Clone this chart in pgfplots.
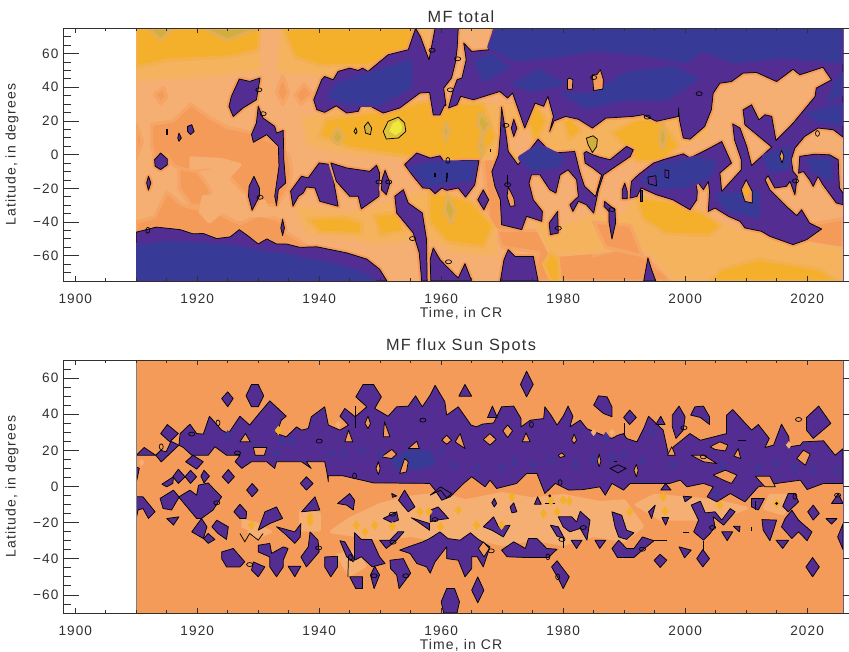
\documentclass[border=0pt]{standalone}
\usepackage{fontspec}
\setmainfont[LetterSpace=8]{Liberation Sans}
\usepackage{pgfplots}
\pgfplotsset{compat=1.18}
\definecolor{cPur}{HTML}{532D91}
\definecolor{cBlue}{HTML}{383A98}
\definecolor{cOr}{HTML}{F59B5A}
\definecolor{cLt}{HTML}{F5AF73}
\definecolor{cMd}{HTML}{F6B35E}
\definecolor{cGold}{HTML}{F4B02A}
\definecolor{cOl}{HTML}{D2AE3C}
\definecolor{cYel}{HTML}{F0E63C}
\definecolor{cTxt}{HTML}{303030}
\pgfplotsset{
 lay/.style={fill=#1,draw=#1!50!cLt,line width=2.5pt,line join=round},
 mask/.style={fill=white,draw=none},
 pur/.style={fill=cPur,draw=black,line width=.55pt,line join=round,preaction={draw=cOr,line width=3.5pt}},
 pbot/.style={fill=cPur,draw=black,line width=.55pt,line join=round},
 isl/.style={fill=cOr,draw=black,line width=.55pt,line join=round},
 blu/.style={fill=cBlue,draw=none,line join=round,preaction={draw=cPur!50!cBlue,line width=4pt}},
 ovh/.style={only marks,mark=o,mark size=1.5pt,mark options={xscale=1.55,draw=black,fill=none,line width=.5pt,solid}},
 ovv/.style={only marks,mark=o,mark size=1.5pt,mark options={yscale=1.45,draw=black,fill=none,line width=.5pt,solid}},
 ln/.style={draw=black,line width=.55pt},
 tk/.style={draw=cTxt,line width=.6pt,unbounded coords=jump},
 common/.style={
  scale only axis,width=596.9pt,
  xmin=1898,xmax=2028.5,
  axis on top,
  axis line style={line width=.7pt,cTxt},
  every tick/.style={line width=.6pt,cTxt},
  tick align=inside,
  xtick={1900,1920,1940,1960,1980,2000,2020},
  xticklabels={1900,1920,1940,1960,1980,2000,2020},
  minor x tick num=3,minor y tick num=3,
  xtick pos=both,ytick pos=both,
  major tick length=3.75pt,minor tick length=1.9pt,
  ticklabel pos=left,
  tick label style={font=\fontsize{10.2}{12}\selectfont,text=cTxt},
  xticklabel style={yshift=-6pt},
  label style={font=\fontsize{10.5}{12}\selectfont,text=cTxt},
  title style={font=\fontsize{12.2}{14}\selectfont,text=cTxt,yshift=-5pt},
  ylabel style={yshift=4pt},
  xlabel style={yshift=4pt},
  xlabel={Time, in CR},
  ylabel={Latitude, in degrees},
 }
}
\begin{document}
\begin{tikzpicture}[x=1pt,y=1pt]
\useasboundingbox (0,0) rectangle (636.75,489);
\clip (0,0) rectangle (636.75,489);
% ============= TOP PANEL
\begin{axis}[common,at={(47.3pt,278.25pt)},anchor=south west,height=189.5pt,
 ymin=-75,ymax=75,ytick={-60,-40,-20,0,20,40,60},yticklabels={−60,−40,−20,0,20,40,60},title={MF total}]
\addplot[lay=cLt] coordinates {(1910,-75)(2025.9,-75)(2025.9,75)(1910,75)} --cycle;
% orange levels
\addplot[lay=cOr] coordinates {(1910,-48)(1910,-40)(1913,-37)(1915,-22)(1917.5,-30)(1921,-33)(1923,-28)(1924,-36)(1927,-41)(1930,-36)(1933,-38)(1935,-47)(1938,-54)(1932,-56)(1915,-50)} --cycle;
\addplot[lay=cOr] coordinates {(1912.5,18)(1916,20)(1919,30)(1922,22)(1925,16)(1928,14)(1932,8)(1935,0)(1935.5,-10)(1935,-20)(1933,-30)(1930,-30)(1927,-20)(1925,-12)(1922,-8)(1918,-10)(1916,-6)(1915,0)(1913,-2)(1912.5,5)} --cycle;
\addplot[lay=cOr] coordinates {(1917,-8)(1920,-10)(1922,-20)(1923,-30)(1919,-30)(1917,-20)} --cycle;
\addplot[lay=cOr] coordinates {(1910,-2)(1911,8)(1910,18)} --cycle;
\addplot[lay=cOr] coordinates {(1913,36)(1914.5,40)(1915,34)(1914,30)} --cycle;
\addplot[lay=cOr] coordinates {(1933,37)(1934,47)(1935,37)(1934,30)} --cycle;
\addplot[lay=cOr] coordinates {(1936,35)(1937.5,42)(1939,36)(1937,30)} --cycle;
\addplot[lay=cOr] coordinates {(1969,-45)(1985,-45)(1985,-60)(1990,-55)(1993,-60)(1998,-75)(1975,-75)(1976,-58)(1970,-55)} --cycle;
\addplot[lay=cOr] coordinates {(1966,30)(1972,30)(1972,-45)(1968,-45)} --cycle;
\addplot[lay=cOr] coordinates {(2010,-48)(2025.9,-38)(2025.9,-55)(2012,-54)} --cycle;
% light back on top of orange
\addplot[lay=cLt] coordinates {(1919,-2)(1924,-3)(1927,-6)(1925,-14)(1922,-7)(1919,-8)} --cycle;
\addplot[lay=cLt] coordinates {(1925,-28)(1928,-24)(1931,-28)(1932,-36)(1928,-36)} --cycle;
\addplot[lay=cLt] coordinates {(1921,-25)(1924,-24)(1924.5,-32)(1922,-40)(1920.5,-34)} --cycle;
% mid/gold top
\addplot[lay=cMd] coordinates {(1910,75)(1958,75)(1958,50)(1945,46)(1935,48)(1931,50)(1920,46)(1910,44)} --cycle;
\addplot[lay=cLt] coordinates {(1930,75)(1933.5,75)(1932.7,45)(1931,45)} --cycle;
\addplot[lay=cGold] coordinates {(1910,75)(1930.3,75)(1930,62)(1925,58)(1915,56)(1910,52)} --cycle;
\addplot[lay=cGold] coordinates {(1934,75)(1955.5,75)(1955,62)(1948,53)(1940,53)(1936,58)} --cycle;
\addplot[lay=cOl] coordinates {(1912,75)(1916,75)(1914,68)} --cycle;
\addplot[lay=cOl] coordinates {(1921,75)(1930,75)(1925,68)} --cycle;
% central band
\addplot[lay=cMd] coordinates {(1937,22)(1945,28)(1960,32)(1970,30)(1980,24)(2000,22)(2006,14)(2000,6)(1990,-5)(1970,-2)(1960,-4)(1945,0)(1938,6)} --cycle;
\addplot[lay=cGold] coordinates {(1941,21)(1950,26)(1958,32)(1967,30)(1969,10)(1966,-4)(1958,-3)(1945,4)(1940,11)} --cycle;
\addplot[lay=cGold] coordinates {(1974.2,20)(1975.5,31)(1977.3,20)(1975.5,7)} --cycle;
\addplot[lay=cGold] coordinates {(1980,20)(1981.3,22)(1983,14)(1981,9)} --cycle;
\addplot[lay=cGold] coordinates {(1992,21)(1996,21)(1999,5)(1996,-4)(1992,-4)(1990,5)(1988,13)} --cycle;
\addplot[lay=cOl] coordinates {(1960.8,19)(1961.3,14)(1960.8,8)(1960.3,14)} --cycle;
\addplot[lay=cOl] coordinates {(1966.4,25)(1968,18)(1967,12)(1966,18)} --cycle;
\addplot[lay=cOl] coordinates {(1966.6,13)(1967,5)(1966.6,-2)(1966.2,5)} --cycle;
\addplot[lay=cOl] coordinates {(1996.3,18)(1997,10)(1996.3,3)(1995.7,10)} --cycle;
\addplot[lay=cOl] coordinates {(1943,16)(1944,10)(1943,6)(1942,10)} --cycle;
\addplot[lay=cLt] coordinates {(1971,8)(1974,14)(1975,3)(1973,0)} --cycle;
% lower band
\addplot[lay=cMd] coordinates {(1936,-30)(1945,-34)(1950,-30)(1958,-20)(1966,-28)(1969,-45)(1969,-60)(1962,-58)(1958,-50)(1950,-53)(1945,-50)(1938,-47)} --cycle;
\addplot[lay=cGold] coordinates {(1938,-38)(1944,-37)(1947,-40)(1947,-47)(1940,-46)} --cycle;
\addplot[lay=cGold] coordinates {(1949,-36)(1953,-34)(1954,-45)(1950,-48)} --cycle;
\addplot[lay=cGold] coordinates {(1958,-21)(1965,-28)(1968.5,-42)(1967,-55)(1961,-52)(1958,-40)} --cycle;
\addplot[lay=cOl] coordinates {(1961,-24)(1962.3,-33)(1961.7,-41)(1960.5,-33)} --cycle;
\addplot[lay=cMd] coordinates {(1975,-38)(1980,-42)(1985,-35)(1990,-35)(1992,-25)(2000,-33)(2010,-46)(2025.9,-56)(2025.9,-75)(1998,-75)(1994,-58)(1991,-55)(1985,-58)(1978,-60)} --cycle;
\addplot[lay=cOr] coordinates {(1985,-40)(1987,-55)(1993,-60)(1991,-42)} --cycle;
\addplot[lay=cGold] coordinates {(1992,-25)(1998,-28)(2003,-35)(2006,-42)(2004,-48)(1997,-47)(1993,-38)} --cycle;
\addplot[lay=cGold] coordinates {(2004,-75)(2025,-75)(2022,-68)(2012,-62)(2006,-68)} --cycle;
\addplot[lay=cGold] coordinates {(1978,-75)(1979.5,-75)(1979.2,-62)(1978,-58)(1976.8,-65)} --cycle;
\addplot[lay=cLt] coordinates {(2005,38)(2012,46)(2016,40)(2022,48)(2023,40)(2016,18)(2012,22)(2009,20)(2004,12)} --cycle;
% purple regions
\addplot[pur] coordinates {(1910,-46)(1913.3,-43)(1917.2,-44.5)(1919.3,-47)(1921,-46.8)(1923.2,-49.8)(1925.4,-48.8)(1926.9,-44.5)(1928.4,-48.4)(1930,-53)(1931.4,-50)(1933,-53)(1934.6,-53)(1936.8,-55)(1939.6,-54.7)(1944.5,-58.3)(1947.8,-62)(1949.9,-68)(1951.1,-75)(1910,-75)} --cycle;
\addplot[pur] coordinates {(1925.2,28.7)(1925.9,22.7)(1927.5,27.7)(1929.7,32.6)(1930.3,45.5)(1928.6,43.5)(1926.9,44.9)(1925.6,34.6)} --cycle;
\addplot[pur] coordinates {(1930,28.7)(1930.8,21.7)(1932.7,16.8)(1933,12.8)(1934.1,14.4)(1934.2,-3)(1934.5,-16.8)(1933.3,-20.8)(1933,-30.2)(1932.7,-24.7)(1933.4,-7)(1933.3,5)(1931.4,11.9)(1929.2,7.3)(1928.9,11.9)(1929.7,18.8)} --cycle;
\addplot[pur] coordinates {(1919.1,17.8)(1919.5,13.8)(1918.9,11.9)(1918.4,13.8)(1918.4,16.8)} --cycle;
\addplot[pur] coordinates {(1917,12.8)(1917.4,9.9)(1917,7.9)(1916.8,9.9)} --cycle;
\addplot[pbot] coordinates {(1914.9,14.8)(1915.1,14.8)(1915.1,12.3)(1914.9,12.3)} --cycle;
\addplot[pur] coordinates {(1913,-3)(1914,1)(1915.1,-2.6)(1915.1,-6)(1914,-8.9)(1913.1,-6.9)} --cycle;
\addplot[pur] coordinates {(1912,-12.8)(1912.4,-16.8)(1912,-21)(1911.7,-16.8)} --cycle;
\addplot[pur] coordinates {(1929.3,-12.8)(1930.2,-19.8)(1930.2,-24.7)(1929,-33)(1928.4,-24.7)(1928.5,-18.8)} --cycle;
\addplot[pur] coordinates {(1934,-38.5)(1934.3,-43.5)(1934,-48)(1933.7,-43.5)} --cycle;
\addplot[pur] coordinates {(1939.1,32.6)(1940.4,44.5)(1940.9,46.4)(1942.3,44.5)(1943.1,49.4)(1945,51.4)(1946.4,50)(1947.1,51.4)(1948,49.4)(1951.3,59.3)(1954.6,62.3)(1955.8,75)(1956.6,70)(1958,56.3)(1959,75)(1962.8,75)(1962.6,62.3)(1962.3,54.3)(1961.7,45.5)(1960.4,39.5)(1960.8,29)(1960.6,29.6)(1959.8,23.6)(1958.7,23.6)(1958.1,37)(1956.5,36.6)(1953.2,27.7)(1950.5,24.7)(1948.3,29)(1946.9,29.6)(1946.4,25.7)(1944.5,24.7)(1942.8,29)(1940.9,25.1)(1939.6,26.7)} --cycle;
% giant region
\addplot[pur] coordinates {(1968.6,75)(1967.8,62.3)(1965,61.3)(1963.7,66.2)(1964.1,56.3)(1963.4,45.5)(1962.6,44.5)(1962,38.5)(1961.2,27.7)(1962.6,29.6)(1963.2,34.6)(1965.3,32.6)(1969.6,37.5)(1970.9,33.6)(1971.7,36.6)(1973.7,15.8)(1975.4,30.6)(1976.8,28.7)(1977.5,34.6)(1978.4,22.7)(1977.8,13.8)(1978.5,20)(1980.4,22.7)(1982.5,21)(1984.8,15.8)(1987,21.7)(1991.4,22.7)(1993.1,23.7)(1995.3,19.8)(1998.9,22.7)(1998.9,27.7)(1999.1,20)(1999.7,9.9)(2000.8,9.2)(2003.2,16.7)(2004.3,26.6)(2004.6,36.5)(2005.7,42.4)(2007.6,43.4)(2009.5,48.4)(2011.7,48.8)(2015,43.4)(2017.7,50.7)(2018.8,47.4)(2022.6,51.9)(2024,44.4)(2021.5,39.5)(2021.3,34.5)(2017.7,18.7)(2014.9,8.4)(2014.2,22.7)(2013.1,23.7)(2012.1,20.7)(2010.9,29.6)(2009.5,26.6)(2009.8,17.7)(2014.2,4.5)(2010.9,-6.4)(2010.1,4.9)(2009,15.8)(2007.8,18.3)(2008.1,8.8)(2009.2,-3)(2009.2,-9)(2006,-21.8)(2005.7,-10.9)(2007.6,-5)(2006,7.8)(2003.5,2.9)(2000.8,-2)(1999.7,.5)(1996.4,-3)(1994.8,-5)(1992.3,-12)(1991.2,-15.9)(1990.9,-25.8)(1992.1,-24.8)(1992.8,-19.8)(1995.3,-23.8)(1998,-26.8)(2000.8,-32.7)(2001.9,-26.8)(2002,-21.8)(2001.4,-10.5)(2002.4,-17.9)(2003,-20.8)(2003.8,-15.9)(2004,-21.8)(2003.8,-33.7)(2004.9,-31.7)(2007.1,-36.6)(2009,-39.6)(2009.8,-43.5)(2012.5,-45.5)(2013.9,-48.5)(2017.7,-53.4)(2019.9,-50.5)(2022.4,-44.1)(2020.4,-40.6)(2019.1,-32.7)(2018.3,-36.2)(2016.6,-30.7)(2013.9,-20.8)(2013.1,-14.9)(2013.6,-12.5)(2014.7,-19.8)(2016.6,-18.8)(2017.2,-15.9)(2018,-23.8)(2018.4,-12.9)(2017.7,-10)(2017.4,-3)(2018,3.9)(2019.6,10.8)(2021.8,15.8)(2024.3,14.8)(2025.9,10.4)(2025.9,75)} --cycle;
\addplot[pur] coordinates {(2018.8,-1)(2021.3,.3)(2023.7,-.1)(2025.1,-3)(2025.3,-19.8)(2025.9,-22.8)(2025.9,-29.7)(2024.8,-28.7)(2022.6,-17.9)(2021.8,-12.9)(2021,-18.8)(2020.4,-14.9)(2019.4,-10)(2018.6,-11)} --cycle;
% lower-centre region
\addplot[pur] coordinates {(1969.9,28.2)(1970.6,12.8)(1971,1.9)(1972.6,-6)(1975.9,9.2)(1978.1,.9)(1981.9,1.9)(1982.7,-10)(1983.5,-18.8)(1985.3,-24.8)(1986.3,-12)(1984.9,-8)(1983.6,-5)(1983.4,.9)(1983.8,1.9)(1984.9,-.1)(1986,-1.5)(1987.7,-3)(1990.4,4.9)(1991.5,2.9)(1991,-1.1)(1988.2,-8)(1986.6,-12)(1985.8,-20.8)(1985,-34.7)(1983.8,-29.7)(1982.5,-27.7)(1981.6,-33.7)(1981.1,-29.7)(1982.5,-24.8)(1982.2,-14.9)(1980.8,-9)(1979.5,-12)(1978.8,-22.8)(1977.8,-20.8)(1976.2,-12)(1974.8,-12)(1974.4,-16.9)(1975.1,-26.8)(1976.6,-33.7)(1976.5,-39.6)(1974,-36.6)(1973.2,-44.5)(1969.9,-41.6)(1969.7,-26.8)(1968.8,-18.8)(1968.3,-10)(1969.4,-.1)(1969.7,12.8)} --cycle;
\addplot[pur] coordinates {(1954,-5.9)(1956,1)(1958.2,-2)(1959.8,-.7)(1960.6,-5)(1963.6,-3.4)(1966.2,-3.6)(1965.5,-17.9)(1964,-25.2)(1962.8,-19.8)(1960.9,-21.2)(1960.1,-19.8)(1959,-23.2)(1958.1,-20)(1957,-19.8)(1955.4,-12.8)} --cycle;
\addplot[pur] coordinates {(1966.9,-20.9)(1967.8,-26.8)(1967,-32.7)(1966,-26.8)} --cycle;
\addplot[pur] coordinates {(1935.3,-21.7)(1935.7,-30.6)(1936.6,-24.7)(1937.4,-22.7)(1937.9,-19.2)(1939.3,-19.8)(1940.1,-27.7)(1943.1,-30.6)(1941.9,-5.9)(1940,-4.9)(1938.2,-13.8)(1937.1,-12.8)} --cycle;
\addplot[pur] coordinates {(1941.9,-4.9)(1944.5,-7.9)(1948.3,-9.9)(1949.4,-6.3)(1949.9,-10.9)(1949.8,-24.7)(1946.9,-32.2)(1946.4,-24.7)(1945,-24.7)(1942.8,-15.8)} --cycle;
\addplot[pur] coordinates {(1950.8,-9.3)(1951.6,-16.8)(1951,-23.7)(1950.2,-20.8)(1950.3,-14.8)} --cycle;
\addplot[pur] coordinates {(1952.4,-24.7)(1953.8,-20.8)(1954.6,-28.7)(1956.9,-34.6)(1957.6,-50.4)(1957.7,-75)(1956.8,-75)(1956.4,-58.3)(1955.4,-46.4)(1952.7,-34.6)} --cycle;
\addplot[pur] coordinates {(1958.3,-75)(1958.2,-62)(1958.7,-55.4)(1959.8,-62.3)(1961.4,-68.3)(1962.8,-73.2)(1963.9,-64.7)(1965,-75)} --cycle;
\addplot[pur] coordinates {(1969.7,-75)(1970.3,-62.3)(1971,-56.4)(1972.1,-60.4)(1975.1,-60.4)(1975.9,-75)} --cycle;
\addplot[pur] coordinates {(1993.9,-61.3)(1994.5,-68.3)(1995.2,-75)(1993.2,-75)} --cycle;
\addplot[pur] coordinates {(1979.1,-33.7)(1979.2,-46.5)(1977.9,-47.5)(1977.7,-40.6)} --cycle;
\addplot[pur] coordinates {(1986.8,-27.8)(1988.5,-32.7)(1988.6,-40.6)(1988,-50.1)(1987.5,-39.6)(1987.5,-33.7)(1986.7,-30.7)} --cycle;
\addplot[pur] coordinates {(1990.1,-16.9)(1990.5,-21.8)(1990.5,-26.2)(1989.7,-26.2)(1989.7,-20.8)} --cycle;
\addplot[pur] coordinates {(1971.9,21)(1972.4,15.7)(1971.9,10.8)(1971.5,15.7)} --cycle;
\addplot[pbot] coordinates {(1992.7,-21)(1993,-21)(1993,-28)(1992.7,-28)} --cycle;
% blue inner
\addplot[blu] coordinates {(1910,-54)(1916,-52)(1925,-54)(1935,-60)(1942,-65)(1947,-70)(1949,-74.5)(1910,-74.5)} --cycle;
\addplot[blu] coordinates {(1941.5,34)(1943,42)(1950,50)(1955,56)(1955,40)(1950,30)(1945,30)} --cycle;
\addplot[blu] coordinates {(1969,74.5)(2025.5,74.5)(2025.5,55)(2016,58)(2008,55)(2003,62)(2000,55)(1992,60)(1985,62)(1978,58)(1972,56)(1968,64)} --cycle;
\addplot[blu] coordinates {(1980,36)(1984,28)(1990,33)(1997,33)(2002,45)(1998,52)(1990,48)(1985,36)} --cycle;
\addplot[blu] coordinates {(1972,42)(1976,50)(1980,42)(1975,38)} --cycle;
\addplot[blu] coordinates {(1965.5,55)(1968,60)(1971,52)(1967,44)} --cycle;
\addplot[blu] coordinates {(2024.6,42)(2025.5,48)(2025.5,36)(2023.5,32)} --cycle;
\addplot[blu] coordinates {(2020,24)(2025.5,30)(2025.5,18)(2022,20)} --cycle;
\addplot[blu] coordinates {(1955,-8)(1958,-5)(1965.5,-5)(1965,-15)(1958,-18)(1956,-12)} --cycle;
\addplot[blu] coordinates {(1973,-2)(1976,5)(1980,-2)(1979,-7)(1975,-9)} --cycle;
\addplot[blu] coordinates {(1993,-15)(1996,-6)(2002,-2)(2005,-5)(2004,-13)(2000,-19)(1995,-20)} --cycle;
\addplot[blu] coordinates {(2005,-24)(2012,-22)(2012,-37)(2007,-33)} --cycle;
\addplot[blu] coordinates {(2013,-1)(2017,4)(2017,-8)(2014,-10)} --cycle;
\addplot[blu] coordinates {(2020,-3)(2024,-3)(2024,-15)(2021,-10)} --cycle;
% orange islands in purple
\addplot[isl] coordinates {(1981,45.5)(1981.6,44.5)(1981.5,38.9)(1980.7,38.9)(1980.7,44.5)} --cycle;
\addplot[isl] coordinates {(1986.1,50.4)(1986.6,44.5)(1986.5,38.9)(1985,38.1)(1984.8,47.4)(1985.5,47.4)} --cycle;
\addplot[isl] coordinates {(2010,-14.9)(2011,-21.8)(2011,-28.7)(2009.8,-27.7)(2009.2,-20.8)} --cycle;
\addplot[isl] coordinates {(2015.8,2.5)(2016.2,-1)(2015.9,-5)(2015.5,-1)} --cycle;
\addplot[isl] coordinates {(1971,-19.3)(1971.9,-25.8)(1972.1,-30.3)(1971.3,-30.7)(1970.8,-24.8)} --cycle;
\addplot[fill=cGold,draw=none] coordinates {(2010,-18)(2010.6,-22)(2010,-26)(2009.6,-22)} --cycle;
% small contours
\addplot[pbot] coordinates {(1993.9,-13.3)(1995.2,-12.5)(1995.3,-18.5)(1994,-17.3)} --cycle;
\addplot[pbot] coordinates {(1996.7,-9)(1997.3,-9.4)(1997.3,-14)(1996.7,-13.3)} --cycle;
\addplot[fill=black,draw=black,line width=.3pt] coordinates {(1968,3.2)(1968.1,3.2)(1968.1,2)(1968,2)} --cycle;
\addplot[fill=black,draw=black,line width=.3pt] coordinates {(1958.9,-11)(1959,-11)(1959,-13)(1958.9,-13)} --cycle;
\addplot[fill=black,draw=black,line width=.3pt] coordinates {(1960.9,-11)(1961.1,-11)(1960.9,-16)(1960.8,-16)} --cycle;
\addplot[line width=.55pt,draw=black] coordinates {(1970.9,-12)(1970.9,-18)};
% yellow contours
\addplot[fill=cOl,draw=black,line width=.55pt] coordinates {(1983.8,9.8)(1984.9,11.2)(1985.6,9.2)(1985.5,4.9)(1984.8,1.3)(1984.1,5.8)} --cycle;
\addplot[fill=cOl,draw=black,line width=.55pt] coordinates {(1948,19.4)(1948.6,15.8)(1948.4,11.9)(1947.6,12.8)(1947.4,16.8)} --cycle;
\addplot[fill=cOl,draw=black,line width=.55pt] coordinates {(1946,15.8)(1946.2,13.8)(1946,12.3)(1945.7,13.8)} --cycle;
\addplot[fill=cOl!60!cYel,draw=black,line width=.55pt] coordinates {(1950.5,13.8)(1951.3,19.8)(1953,22.3)(1954,18.8)(1954.2,13.8)(1953,9.9)(1951,9.3)} --cycle;
\addplot[fill=cYel,draw=none] coordinates {(1951.5,14)(1952,18.5)(1953,20.5)(1953.6,17.5)(1953.5,14)(1952.5,11.5)} --cycle;
% ovals
\addplot[ovh] coordinates {(1930.1,38.5)(1930.8,24.3)(1930.3,-25.3)(1949.8,-16.2)(1951.4,-16.2)(1955.3,-49.8)(1958.5,62)(1962.7,56.9)(1961.5,38.5)(1970.6,17.4)(1970.9,-17.8)(1985,45.8)(2002.3,36.2)(1993.8,22.3)(2018.1,-15.6)(1988,-32.6)(1979.2,-43.7)(1961.2,-63.6)};
\addplot[ovv] coordinates {(1911.9,-44.9)(1961.1,-3.4)(2021.7,12.6)};
% masks
\addplot[mask] coordinates {(1898,-75)(1910,-75)(1910,75)(1898,75)} --cycle;
\addplot[mask] coordinates {(2026,-75)(2028.5,-75)(2028.5,75)(2026,75)} --cycle;
\addplot[draw=cPur!50!gray,line width=.5pt] coordinates {(2025.95,-75)(2025.95,75)};
% long y ticks
\addplot[tk] coordinates {(1898,-60)(1900.62,-60)(1898,nan)(1898,-40)(1900.62,-40)(1898,nan)(1898,-20)(1900.62,-20)(1898,nan)(1898,0)(1900.62,0)(1898,nan)(1898,20)(1900.62,20)(1898,nan)(1898,40)(1900.62,40)(1898,nan)(1898,60)(1900.62,60)};
\addplot[tk] coordinates {(2028.5,-60)(2025.9,-60)(2028.5,nan)(2028.5,-40)(2025.9,-40)(2028.5,nan)(2028.5,-20)(2025.9,-20)(2028.5,nan)(2028.5,0)(2025.9,0)(2028.5,nan)(2028.5,20)(2025.9,20)(2028.5,nan)(2028.5,40)(2025.9,40)(2028.5,nan)(2028.5,60)(2025.9,60)};
\addplot[tk] coordinates {(1898,-70)(1899.31,-70)(1898,nan)(1898,-65)(1899.31,-65)(1898,nan)(1898,-55)(1899.31,-55)(1898,nan)(1898,-50)(1899.31,-50)(1898,nan)(1898,-45)(1899.31,-45)(1898,nan)(1898,-35)(1899.31,-35)(1898,nan)(1898,-30)(1899.31,-30)(1898,nan)(1898,-25)(1899.31,-25)(1898,nan)(1898,-15)(1899.31,-15)(1898,nan)(1898,-10)(1899.31,-10)(1898,nan)(1898,-5)(1899.31,-5)(1898,nan)(1898,5)(1899.31,5)(1898,nan)(1898,10)(1899.31,10)(1898,nan)(1898,15)(1899.31,15)(1898,nan)(1898,25)(1899.31,25)(1898,nan)(1898,30)(1899.31,30)(1898,nan)(1898,35)(1899.31,35)(1898,nan)(1898,45)(1899.31,45)(1898,nan)(1898,50)(1899.31,50)(1898,nan)(1898,55)(1899.31,55)(1898,nan)(1898,65)(1899.31,65)(1898,nan)(1898,70)(1899.31,70)};
\addplot[tk] coordinates {(2028.5,-70)(2027.2,-70)(2028.5,nan)(2028.5,-65)(2027.2,-65)(2028.5,nan)(2028.5,-55)(2027.2,-55)(2028.5,nan)(2028.5,-50)(2027.2,-50)(2028.5,nan)(2028.5,-45)(2027.2,-45)(2028.5,nan)(2028.5,-35)(2027.2,-35)(2028.5,nan)(2028.5,-30)(2027.2,-30)(2028.5,nan)(2028.5,-25)(2027.2,-25)(2028.5,nan)(2028.5,-15)(2027.2,-15)(2028.5,nan)(2028.5,-10)(2027.2,-10)(2028.5,nan)(2028.5,-5)(2027.2,-5)(2028.5,nan)(2028.5,5)(2027.2,5)(2028.5,nan)(2028.5,10)(2027.2,10)(2028.5,nan)(2028.5,15)(2027.2,15)(2028.5,nan)(2028.5,25)(2027.2,25)(2028.5,nan)(2028.5,30)(2027.2,30)(2028.5,nan)(2028.5,35)(2027.2,35)(2028.5,nan)(2028.5,45)(2027.2,45)(2028.5,nan)(2028.5,50)(2027.2,50)(2028.5,nan)(2028.5,55)(2027.2,55)(2028.5,nan)(2028.5,65)(2027.2,65)(2028.5,nan)(2028.5,70)(2027.2,70)};
\end{axis}
% ============= BOTTOM PANEL
\begin{axis}[common,at={(47.3pt,29.25pt)},anchor=south west,height=189.75pt,
 ymin=-70,ymax=70,ytick={-60,-40,-20,0,20,40,60},yticklabels={−60,−40,−20,0,20,40,60},title={MF flux Sun Spots}]
\addplot[fill=cOr,draw=none] coordinates {(1910,-70)(2025.9,-70)(2025.9,70)(1910,70)} --cycle;
% light patches
\addplot[lay=cLt] coordinates {(1950,-10)(1955,-6)(1960,-4)(1964,-8)(1970,-4)(1975,-7)(1980,-5)(1986,-9)(1990,-8)(1993,-22)(1990,-30)(1985,-27)(1980,-32)(1975,-29)(1970,-32)(1965,-28)(1960,-30)(1955,-27)(1950,-29)(1942,-25)(1945,-18)} --cycle;
\addplot[lay=cLt] coordinates {(1995,-5)(2005,-8)(2010,-12)(2005,-18)(1996,-18)(1992,-10)} --cycle;
\addplot[lay=cLt] coordinates {(2014,-5)(2018,-5)(2016,-15)(2013,-12)} --cycle;
\addplot[lay=cLt] coordinates {(1937,-14)(1940,-15)(1940,-24)(1937,-24)} --cycle;
\addplot[lay=cLt] coordinates {(1927.5,-19)(1930,-21)(1929,-24)(1927.5,-22)} --cycle;
\addplot[lay=cLt] coordinates {(1930,-22)(1932,-25)(1930,-28)(1928.5,-25)} --cycle;
\addplot[lay=cLt] coordinates {(1943,-38)(1946,-36)(1947.5,-44)(1945,-49)} --cycle;
\addplot[only marks,mark=diamond*,mark size=2.5pt,color=cLt] coordinates {(1910.9,13.3)(1943.1,34.3)(2017,23)(1988,30)(1985,30)};
\addplot[only marks,mark=diamond*,mark size=3.2pt,color=cGold] coordinates {(1962.8,-13.1)(1965.8,-21.4)(1959.9,-22.3)(1969.9,-21.4)(1971.6,-5.7)(1976.8,-15)(1979,-14)(1980,-7.6)(1981,-8)(1990.9,-14)(1996.4,-5.7)(1996.7,-13.7)(2005.7,-10.3)(2015,-9.4)(1938.5,-19.6)(1938.5,-17)(1928.9,-21.4)(1946.1,-21.4)(1947.5,-25)(1949.1,-21.4)(1956.5,-14)(1958,-14)(1952,-22)(1933.3,31)(1978,-8)};
% main band
\addplot[pbot] coordinates {(1917,22.9)(1917.2,29.3)(1918.8,34.5)(1919.9,29.3)(1921,29)(1922,38.9)(1923.2,34.3)(1924,31.2)(1925.1,29.3)(1927,38.9)(1928.6,34)(1929.7,38.6)(1931.9,47.4)(1934.6,38.9)(1933.8,36.7)(1933,29.3)(1934.6,27.5)(1936.3,33)(1937.1,31.2)(1938.2,32.1)(1938.7,38.6)(1940.9,44.1)(1941.5,34)(1943.4,31.2)(1944.8,34)(1943.4,38.9)(1944.2,43.2)(1945.9,38.6)(1947.8,44.1)(1946,49.6)(1947.2,56.5)(1948.9,56.5)(1950.2,49.6)(1949.1,43.2)(1951.3,38.9)(1952.7,44.1)(1954.6,44.5)(1955.8,50.2)(1956.9,44.1)(1958.2,50.6)(1959,56)(1960.6,46.9)(1960.9,39.5)(1962.8,44.1)(1964.9,34)(1965.8,33)(1966.7,34.5)(1968.6,35.2)(1969.9,44.1)(1971.9,44.5)(1973.1,37.6)(1973.1,33)(1974.6,36.7)(1976.8,37.6)(1977,44.1)(1978,39.5)(1979,34)(1980,38.9)(1980.8,44.5)(1981.6,38.9)(1981.1,33)(1982.8,36.7)(1983.9,32)(1986.9,27.9)(1988,26.6)(1989,28.4)(1989.9,29.3)(1990.4,26.6)(1992.1,24.7)(1993.2,32.1)(1994,38.9)(1996.4,31.2)(1997.3,17.3)(1998.1,22)(2000.8,29.3)(2002.5,25.6)(2006.8,29.3)(2006.8,39.5)(2007.8,42.6)(2010.9,31.2)(2012,34.3)(2013.8,26.6)(2013.1,21.6)(2014.5,22.9)(2015.8,34.5)(2017,27.5)(2017.1,22)(2018.9,22.9)(2019.3,24.7)(2022.7,25.3)(2024.6,17.3)(2025.9,21)(2025.9,1.7)(2022.7,1.7)(2020,-1.7)(2018.9,3.5)(2015,1.7)(2012,-.2)(2009.8,-8.5)(2007.4,-3.9)(2005.2,-8.5)(2003.6,-5.7)(2004.6,-.2)(2003,1.7)(2000.3,-.2)(1999.2,3.5)(1997.5,1.7)(1993.2,1.7)(1991,1.7)(1989.9,-2)(1988,1.7)(1986.9,-4.8)(1986,-.2)(1983.3,-1.7)(1980.9,-2)(1978.7,1.7)(1977,-3.9)(1975.7,7.2)(1974,7.2)(1972.4,1.7)(1969.1,-1.1)(1968,3.5)(1967.2,-.2)(1965,5.4)(1963.7,1.7)(1961.5,-5.7)(1960.1,-7.6)(1959,-2)(1958.1,1.7)(1948.9,2)(1943.9,5.9)(1941.5,5.9)(1941.5,2.6)(1941.2,9)(1940.9,13.7)(1937.9,13.7)(1938.7,10)(1937.1,13.7)(1933,13.7)(1932.7,10)(1931.4,13.7)(1928.9,13.7)(1927.3,10)(1926.2,13.7)(1927,17.3)(1925.9,17.3)(1924.8,17.3)(1922.9,22)(1921.8,17.3)(1919.1,17.3)(1917.7,21.6)} --cycle;
% blue levels
\addplot[blu] coordinates {(1952,14)(1955,20)(1958,19)(1959,13)(1956,10)(1953,10)} --cycle;
\addplot[only marks,mark=diamond*,mark size=4pt,color=cPur!45!cBlue] coordinates {(1925,28)(1934,25)(1935.5,25)(1933,18)(1942,18)(1947,20)(1950,18)(1960,19)(1962,12)(1966,10)(1970,10)(1975,12)(1978,14)(1985,15)(1988,16)(1990,18)(1993,14)(1998,12)(2006,12)(2012,10)(2015,13)(2018,10)(2021,9)(2025,9)(1987,27)(1994.5,30)(1944,18)(1972,14)(1982,12)(2005,-4)};
% holes
\addplot[isl] coordinates {(1927.9,29.3)(1928.7,24.7)(1927,24.7)} --cycle;
\addplot[isl] coordinates {(1929.2,21.6)(1931.4,21.6)(1931,17.3)(1929.5,17.3)} --cycle;
\addplot[isl] coordinates {(1944.8,31.2)(1945.5,24.7)(1944.2,24.7)} --cycle;
\addplot[isl] coordinates {(1948,38.9)(1948.4,34.9)(1948,32.1)(1947.5,34.9)} --cycle;
\addplot[isl] coordinates {(1950.7,35.8)(1951.6,27.5)(1950.5,27.5)} --cycle;
\addplot[isl] coordinates {(1951.9,20.5)(1952.7,17.9)(1951.9,15.5)(1950.2,16.4)} --cycle;
\addplot[isl] coordinates {(1956,25.1)(1956.4,21)(1954.6,21)} --cycle;
\addplot[isl] coordinates {(1954,15.5)(1954.6,13.7)(1954.3,8.1)(1953.2,7.2)} --cycle;
\addplot[isl] coordinates {(1949.7,13.7)(1950,10)(1949.7,6.6)(1949.3,10)} --cycle;
\addplot[isl] coordinates {(1968,29.3)(1969,26)(1968,22.9)(1966.9,26)} --cycle;
\addplot[isl] coordinates {(1970.9,34)(1971.7,30.8)(1970.9,27.1)(1970.1,30.8)} --cycle;
\addplot[isl] coordinates {(1973.9,29.7)(1974.6,24.7)(1973.3,24.7)} --cycle;
\addplot[isl] coordinates {(1960.9,28.4)(1961.7,25.6)(1960.9,23.4)(1960.1,25.6)} --cycle;
\addplot[isl] coordinates {(1963.1,29.3)(1963.9,21)(1962.3,24.7)} --cycle;
\addplot[isl] coordinates {(1981.8,29)(1982.2,25.6)(1981.8,23.8)(1981.4,25.6)} --cycle;
\addplot[isl] coordinates {(1979.2,17.3)(1979.8,18.6)(1980.3,16.8)(1979.5,16)} --cycle;
\addplot[isl] coordinates {(1997.8,22)(1998.4,17.3)(1997.1,17.3)} --cycle;
\addplot[isl] coordinates {(2004.1,22)(2005.7,24.7)(2007,22.9)(2006.6,19.7)(2004.9,20.5)} --cycle;
\addplot[isl] coordinates {(2001,17.3)(2003,17.3)(2005.2,12.7)(2003,13.7)} --cycle;
\addplot[isl] coordinates {(2008.7,21)(2009.1,15.5)(2008,16.8)} --cycle;
\addplot[isl] coordinates {(2011.5,5.7)(2013.9,5.7)(2014.8,-.2)(2013.1,-.2)} --cycle;
\addplot[isl] coordinates {(2019.4,20.1)(2020.5,17.9)(2019.7,11.8)(2018.3,15.5)} --cycle;
\addplot[isl] coordinates {(2006.6,9)(2008.5,6.3)(2007.6,1.7)(2006.3,3.5)(2004.6,6.3)} --cycle;
\addplot[isl] coordinates {(1992,12.2)(1992.3,9)(1992,5.4)(1991.6,9)} --cycle;
\addplot[isl] coordinates {(1985.9,18)(1986.2,14)(1985.9,11)(1985.6,14)} --cycle;
% islands (purple)
\addplot[pbot] coordinates {(1910,17.3)(1911.3,21.6)(1913.2,17.3)} --cycle;
\addplot[pbot] coordinates {(1913.2,17.3)(1914.1,13.6)(1917,22.9)(1915.7,25)(1914.9,19.2)(1914,20)} --cycle;
\addplot[pbot] coordinates {(1914,29.3)(1915.1,34.3)(1916.9,29.3)(1915.5,24.7)} --cycle;
\addplot[pbot] coordinates {(1925,52.4)(1925.9,48.7)(1925,44.1)(1924,48.7)} --cycle;
\addplot[pbot] coordinates {(1928.9,56.5)(1930,56.5)(1930.9,50.2)(1930,44.1)(1928.9,44.1)(1928,50.2)} --cycle;
\addplot[pbot] coordinates {(1919.3,17.3)(1921,13.7)(1919.9,9.6)(1918.1,13.7)} --cycle;
\addplot[pbot] coordinates {(1916.9,9.6)(1918,5.4)(1916.9,1.7)(1916,5.4)} --cycle;
\addplot[pbot] coordinates {(1918.9,9)(1919.9,5.4)(1918.9,1.7)(1918,5.4)} --cycle;
\addplot[pbot] coordinates {(1916.1,5.4)(1914.2,1.3)(1915,-.2)(1916,1.7)} --cycle;
\addplot[pbot] coordinates {(1921.1,9)(1922,5.7)(1921.1,2)(1920.6,5.7)} --cycle;
\addplot[pbot] coordinates {(1925.1,9.4)(1926.1,5.4)(1925.1,1.7)(1924.1,5.4)} --cycle;
\addplot[pbot] coordinates {(1929,1.7)(1930,-2)(1929,-5.7)(1928.1,-2)} --cycle;
\addplot[pbot] coordinates {(1937.9,5.4)(1939,1.7)(1937.9,-2)(1936.9,1.7)} --cycle;
\addplot[pbot] coordinates {(1910,-5.7)(1911.1,-5.7)(1913.1,-14)(1912,-17.7)(1911.1,-12.2)(1910.3,-13)(1910,-17.7)} --cycle;
\addplot[pbot] coordinates {(1910,10.9)(1910.5,10)(1910,2)} --cycle;
\addplot[pbot] coordinates {(1913.9,-6.6)(1916.1,-2)(1917,-5.7)(1918.8,-2)(1919.9,-4.8)(1920.2,.7)(1921.8,2)(1922.9,-2)(1924,-5.7)(1922.6,-13)(1920.7,-17.7)(1919.9,-17.7)(1917,-6)(1915.8,-13)(1914.4,-12.2)} --cycle;
\addplot[pbot] coordinates {(1915,-17.7)(1917,-16.8)(1916.1,-21.4)} --cycle;
\addplot[pbot] coordinates {(1920.7,-17.7)(1921.6,-22.3)(1921,-28.8)(1919.1,-25.1)} --cycle;
\addplot[pbot] coordinates {(1921.8,-26)(1922.9,-29.3)(1921.8,-31.5)(1921,-28.8)} --cycle;
\addplot[pbot] coordinates {(1923.2,-18.6)(1925.1,-22.3)(1924.8,-29.3)(1923.4,-26)(1922.4,-22.3)} --cycle;
\addplot[pbot] coordinates {(1927,-9.8)(1928.1,-14)(1928,-17.7)(1927,-17.7)(1926,-14)} --cycle;
\addplot[pbot] coordinates {(1930,-24.2)(1931.1,-14)(1933,-11.3)(1934,-17.7)(1931.9,-20.5)} --cycle;
\addplot[pbot] coordinates {(1933,-22.3)(1936,-25.1)(1937,-20.5)(1936.9,-27.9)(1936,-31.5)(1934.6,-26.9)} --cycle;
\addplot[pbot] coordinates {(1924,-36.2)(1925.9,-34.3)(1927.8,-41.7)(1927,-44.5)(1924.8,-44.5)(1924,-39.9)} --cycle;
\addplot[pbot] coordinates {(1929.2,-41.7)(1931.1,-44.5)(1930,-50)(1928.9,-46.3)} --cycle;
\addplot[pbot] coordinates {(1930,-32.5)(1931.9,-31.5)(1932.2,-37)(1934.1,-33.4)(1934.9,-34.3)(1934.1,-40.8)(1934.1,-44.5)(1933,-50)(1931.9,-44.5)(1931.9,-39)(1930,-36.2)} --cycle;
\addplot[pbot] coordinates {(1934.9,-44.1)(1937,-44.1)(1936,-50)} --cycle;
\addplot[pbot] coordinates {(1938.5,-25.1)(1939.8,-29.7)(1940,-36.2)(1937.9,-44.5)(1937,-39)(1938.2,-33.4)} --cycle;
\addplot[pbot] coordinates {(1940.9,-39)(1943,-38.6)(1943,-44.5)(1941.9,-50)(1940.9,-44.5)} --cycle;
\addplot[pbot] coordinates {(1945,-3.9)(1945.8,-7.6)(1945.6,-13)(1944.5,-10.3)(1943,-9.4)} --cycle;
\addplot[pbot] coordinates {(1939.3,-5.7)(1940.1,-13)(1937.1,-14)} --cycle;
\addplot[pbot] coordinates {(1943.4,-30)(1944.2,-30.6)(1945.6,-38.9)(1945.6,-41.7)(1944.5,-38.9)} --cycle;
\addplot[pbot] coordinates {(1945.8,-25.6)(1946.9,-29.3)(1948.6,-29.3)(1949.9,-38.9)(1950.8,-42.6)(1948.7,-44.5)(1946.9,-38.9)(1945.8,-40.8)} --cycle;
\addplot[pbot] coordinates {(1945,-50)(1947.1,-50)(1947.1,-56.5)(1946,-56.5)} --cycle;
\addplot[pbot] coordinates {(1949.1,-44.1)(1949.9,-49)(1949,-56.5)(1948.4,-49)} --cycle;
\addplot[pbot] coordinates {(1951.6,-40.8)(1953.8,-39.9)(1955,-48)(1953.1,-56.5)(1952.7,-49)(1951.7,-45.4)} --cycle;
\addplot[pbot] coordinates {(1952.9,-25.1)(1953.9,-25.1)(1952.7,-29.7)(1951,-34.3)(1949.9,-29.7)(1951.6,-29.7)} --cycle;
\addplot[pbot] coordinates {(1953.2,-35.2)(1954.6,-33.4)(1957,-30.6)(1958.1,-28.8)(1959.8,-25.1)(1961.1,-28.8)(1963.1,-29.7)(1964.8,-25.6)(1965.9,-28.8)(1968,-33.4)(1966.9,-44.5)(1965.9,-38.9)(1965,-38.9)(1965,-45.4)(1963.9,-50)(1962.8,-40.8)(1960.9,-39.9)(1960.9,-33.4)(1959,-41.7)(1958.2,-48)(1957.6,-44.5)(1956,-42.6)(1954.9,-37.1)} --cycle;
\addplot[isl] coordinates {(1966.9,-30.6)(1967.9,-34.3)(1967,-38.9)(1966.1,-34.3)} --cycle;
\addplot[pbot] coordinates {(1951.9,-3.9)(1952.7,-5.2)(1952,-6)} --cycle;
\addplot[pbot] coordinates {(1953,-7.6)(1954,-2)(1955.7,-11.3)(1954.6,-14)} --cycle;
\addplot[pbot] coordinates {(1950.5,-17.7)(1952.7,-14)(1953,-18.6)(1951.9,-20)} --cycle;
\addplot[pbot] coordinates {(1955.1,-17.3)(1958.1,-20.5)(1958.1,-24.2)(1956.2,-19.6)} --cycle;
\addplot[pbot] coordinates {(1958.2,-4.8)(1959.9,-.2)(1961.7,-3.9)(1960.9,-6.3)(1959.9,-2)} --cycle;
\addplot[pbot] coordinates {(1958.2,-13.1)(1959.5,-11.3)(1961.2,-17.7)(1959.3,-18.6)(1958.2,-19.6)} --cycle;
\addplot[pbot] coordinates {(1966.9,-22.3)(1968.6,-16.8)(1969.4,-22.3)(1971.3,-21.4)(1970.2,-27.9)(1968.3,-24.2)} --cycle;
\addplot[pbot] coordinates {(1968.7,-6.6)(1969.1,-9.4)(1968.7,-11.3)(1968.3,-9)} --cycle;
\addplot[pbot] coordinates {(1971.9,-9)(1972.4,-14)(1971.6,-14.6)(1971.3,-11.3)} --cycle;
\addplot[pbot] coordinates {(1975.8,-5.7)(1976.4,-9.8)(1975.3,-9.8)} --cycle;
\addplot[pbot] coordinates {(1969.9,-35.2)(1971.9,-30.6)(1973.8,-34.3)(1974.3,-28.8)(1975.7,-28.8)(1977.3,-34.3)(1979,-34.7)(1977.6,-39.3)(1974,-39.3)(1970.8,-38.9)} --cycle;
\addplot[pbot] coordinates {(1979.2,-16.8)(1981.4,-16.8)(1982.2,-19.6)(1982.8,-13.7)(1984.4,-18.6)(1983.9,-29.7)(1982.8,-23.2)(1981.1,-25.1)(1980,-22.3)} --cycle;
\addplot[pbot] coordinates {(1977.9,-21.4)(1979.2,-22.3)(1980.2,-28.8)(1979,-27.5)} --cycle;
\addplot[pbot] coordinates {(1981.3,-29.7)(1983.1,-29.7)(1982.2,-34.3)} --cycle;
\addplot[pbot] coordinates {(1985.2,-29.7)(1987,-29.7)(1986,-34.3)} --cycle;
\addplot[pbot] coordinates {(1988,-34.3)(1989.1,-29.7)(1990.4,-34.3)(1991.6,-34.3)(1993,-27.9)(1994.9,-30)(1993,-35.2)(1991.6,-39.3)(1988.9,-39.3)} --cycle;
\addplot[ln] coordinates {(1994.9,-30)(1997,-30)};
\addplot[pbot] coordinates {(1988,-14)(1989.6,-15.9)(1990.4,-24.2)(1991.6,-25.6)(1990.4,-29.3)(1989.1,-27.9)(1988.5,-22.3)} --cycle;
\addplot[pbot] coordinates {(1994.9,-40.8)(1995.9,-37.5)(1997,-40.8)(1995.9,-44.8)} --cycle;
\addplot[pbot] coordinates {(1999,-33.4)(2001,-35.2)(1999.9,-39.5)} --cycle;
\addplot[pbot] coordinates {(2002.9,-34.9)(2004,-39.9)(2002.9,-44.5)(2001.9,-39.9)} --cycle;
\addplot[pbot] coordinates {(1978.1,-44.5)(1979,-41.1)(1981,-50)(1980,-56.5)(1979.2,-50.9)} --cycle;
\addplot[pbot] coordinates {(1966,-50)(1967,-57.4)(1966,-64.4)(1965,-57.4)} --cycle;
\addplot[pbot] coordinates {(1960.9,-56.5)(1962.2,-56.5)(1963,-63.8)(1962.6,-70)(1960.4,-70)(1960,-63.8)} --cycle;
\addplot[pbot] coordinates {(1974,63.8)(1975.1,56.5)(1974,49.6)(1973,56.5)} --cycle;
\addplot[pbot] coordinates {(1963.9,56.5)(1965,50)(1962.9,50)} --cycle;
\addplot[pbot] coordinates {(1968.4,44.5)(1969.2,38.2)(1967.6,38.2)} --cycle;
\addplot[pbot] coordinates {(1985.8,50.2)(1987.2,49.6)(1988,44.1)(1988,38.6)(1986.6,40.4)(1985,45)} --cycle;
\addplot[pbot] coordinates {(1990.9,42.3)(1992,38.2)(1990.9,34.3)(1989.9,38.2)} --cycle;
\addplot[pbot] coordinates {(1996,38.9)(1996.7,34.3)(1995.2,34.3)} --cycle;
\addplot[pbot] coordinates {(1999,44.5)(2000,38.6)(1999.7,31.2)(1998.5,26.6)(1997.9,33)(1997.9,39.5)} --cycle;
\addplot[pbot] coordinates {(2001.6,44.1)(2003,44.5)(2004,38.6)(2004,34.3)(2002.5,38.2)(2000.9,39.5)} --cycle;
\addplot[pbot] coordinates {(2021.9,44.5)(2023.9,34.9)(2021,26.6)(2019.9,31.2)(2019.9,38.2)} --cycle;
\addplot[pbot] coordinates {(2020.9,-39.3)(2022,-44.5)(2020.9,-50)(2019.8,-44.5)} --cycle;
\addplot[pbot] coordinates {(2001,-10.3)(2002.5,-8.1)(2003.3,-14.6)(2004.9,-14)(2006,-18.6)(2007.4,-12.2)(2008.2,-14)(2006.3,-21.4)(2004.6,-16.8)(2004.9,-22.3)(2004.1,-26)(2003,-29.7)(2001.4,-25.1)(2002.2,-18.6)} --cycle;
\addplot[pbot] coordinates {(2006,-25.1)(2007.8,-25.1)(2006.9,-30)} --cycle;
\addplot[pbot] coordinates {(2012.6,-18.3)(2015,-18.6)(2014.5,-24.2)(2013.9,-30)(2012.8,-24.2)} --cycle;
\addplot[pbot] coordinates {(2014.9,-29.7)(2017,-29.7)(2016,-34.3)} --cycle;
\addplot[pbot] coordinates {(2016.4,-17.7)(2017.5,-13.1)(2018.6,-18.6)(2020.8,-25.1)(2020,-30)(2018.6,-25.1)(2017.5,-28.8)(2015.8,-22.3)} --cycle;
\addplot[pbot] coordinates {(2021,-10.3)(2022,-14.9)(2021,-18.6)(2020.1,-14)} --cycle;
\addplot[pbot] coordinates {(2023.1,-17.7)(2024.9,-17.7)(2024,-20.8)} --cycle;
\addplot[pbot] coordinates {(2025.9,-20.5)(2025.9,-35)(2025,-27.9)} --cycle;
\addplot[pbot] coordinates {(2025.1,-3.9)(2025.9,-9.4)(2024,-9.4)} --cycle;
\addplot[pbot] coordinates {(1994,-14)(1995.1,-10.3)(1994.5,-17.7)} --cycle;
\addplot[pbot] coordinates {(1996.8,1.7)(1997.7,-2)(1996,-2)} --cycle;
\addplot[pbot] coordinates {(1996.2,-17.2)(1997.3,-17.2)(1996.8,-21.4)} --cycle;
\addplot[pbot] coordinates {(1999.7,-5.4)(2001.1,-5.7)(2000,-8.5)} --cycle;
\addplot[pbot] coordinates {(2007.9,-22)(2009,-22)(2008.9,-25.1)} --cycle;
\addplot[pbot] coordinates {(2010.9,-6.6)(2013,-6.6)(2012,-13)(2010.9,-11.3)} --cycle;
\addplot[pbot] coordinates {(2016.9,-3.9)(2018,-3.9)(2018.6,-8.5)(2016.9,-14)(2016,-11)} --cycle;
% gold dots over purple
\addplot[only marks,mark=*,mark size=.8pt,color=black] coordinates {(1977.8,-5.2)(2015,-9.4)};
% nested contour and lines
\addplot[draw=black,line width=.55pt] coordinates {(1987.7,10)(1989,12)(1990.3,10)(1989,7.5)} --cycle;
\addplot[ln] coordinates {(1945.9,44.5)(1945.9,32.1)};
\addplot[ln] coordinates {(1944.8,-39)(1944.7,-50)};
\addplot[ln] coordinates {(1927,-26)(1927.8,-30.6)(1928.6,-26)(1930,-29.7)(1930.8,-26)};
\addplot[ln] coordinates {(1988.3,13.7)(1988.8,13.7)};
\addplot[ln] coordinates {(1999.7,-25.6)(2000.7,-25.6)};
\addplot[ln] coordinates {(2010.9,-22.3)(2010.9,-24.5)};
\addplot[ln] coordinates {(2008.7,25.6)(2010,25.6)};
\addplot[ln] coordinates {(1977,-9.6)(1978.6,-9.6)};
\addplot[ln] coordinates {(1990,35)(1990,28)};
\addplot[ln] coordinates {(1980,-28)(1980,-34)};
\addplot[ln] coordinates {(2003,-30)(2003,-35)};
\addplot[ln] coordinates {(2011.5,-8)(2011.5,-13)};
% ovals
\addplot[ovh] coordinates {(1919.1,29)(1926.6,18.6)(1923.2,-9)(1928.6,-43.2)(1940,25.1)(1939.9,-34)(1957,36.7)(1952,-15.3)(1952.1,-30.8)(1949,-49.4)(1954.2,-49.4)(1959,-18.3)(1968.2,-35.6)(1979.8,-29.3)(1983.3,-22.7)(1993,-34.7)(1999.8,32.5)(2003,16.4)(2004.5,-22.7)(2018.6,37.1)(2025,-4.8)};
\addplot[ovv] coordinates {(1914.1,22)(1923.4,35.2)(1945.8,5.9)(1945.1,-39.3)(1974.8,34.3)(1979.5,2.2)(1977.5,-38.9)(1979.1,-50)(2018,-5.4)};
% masks
\addplot[mask] coordinates {(1898,-70)(1910,-70)(1910,70)(1898,70)} --cycle;
\addplot[mask] coordinates {(2026,-70)(2028.5,-70)(2028.5,70)(2026,70)} --cycle;
\addplot[draw=gray,line width=.4pt] coordinates {(1910,-70)(1910,70)};
\addplot[draw=cPur!50!gray,line width=.5pt] coordinates {(2025.95,-70)(2025.95,70)};
% long y ticks
\addplot[tk] coordinates {(1898,-60)(1900.62,-60)(1898,nan)(1898,-40)(1900.62,-40)(1898,nan)(1898,-20)(1900.62,-20)(1898,nan)(1898,0)(1900.62,0)(1898,nan)(1898,20)(1900.62,20)(1898,nan)(1898,40)(1900.62,40)(1898,nan)(1898,60)(1900.62,60)};
\addplot[tk] coordinates {(2028.5,-60)(2025.9,-60)(2028.5,nan)(2028.5,-40)(2025.9,-40)(2028.5,nan)(2028.5,-20)(2025.9,-20)(2028.5,nan)(2028.5,0)(2025.9,0)(2028.5,nan)(2028.5,20)(2025.9,20)(2028.5,nan)(2028.5,40)(2025.9,40)(2028.5,nan)(2028.5,60)(2025.9,60)};
\addplot[tk] coordinates {(1898,-65)(1899.31,-65)(1898,nan)(1898,-55)(1899.31,-55)(1898,nan)(1898,-50)(1899.31,-50)(1898,nan)(1898,-45)(1899.31,-45)(1898,nan)(1898,-35)(1899.31,-35)(1898,nan)(1898,-30)(1899.31,-30)(1898,nan)(1898,-25)(1899.31,-25)(1898,nan)(1898,-15)(1899.31,-15)(1898,nan)(1898,-10)(1899.31,-10)(1898,nan)(1898,-5)(1899.31,-5)(1898,nan)(1898,5)(1899.31,5)(1898,nan)(1898,10)(1899.31,10)(1898,nan)(1898,15)(1899.31,15)(1898,nan)(1898,25)(1899.31,25)(1898,nan)(1898,30)(1899.31,30)(1898,nan)(1898,35)(1899.31,35)(1898,nan)(1898,45)(1899.31,45)(1898,nan)(1898,50)(1899.31,50)(1898,nan)(1898,55)(1899.31,55)(1898,nan)(1898,65)(1899.31,65)};
\addplot[tk] coordinates {(2028.5,-65)(2027.2,-65)(2028.5,nan)(2028.5,-55)(2027.2,-55)(2028.5,nan)(2028.5,-50)(2027.2,-50)(2028.5,nan)(2028.5,-45)(2027.2,-45)(2028.5,nan)(2028.5,-35)(2027.2,-35)(2028.5,nan)(2028.5,-30)(2027.2,-30)(2028.5,nan)(2028.5,-25)(2027.2,-25)(2028.5,nan)(2028.5,-15)(2027.2,-15)(2028.5,nan)(2028.5,-10)(2027.2,-10)(2028.5,nan)(2028.5,-5)(2027.2,-5)(2028.5,nan)(2028.5,5)(2027.2,5)(2028.5,nan)(2028.5,10)(2027.2,10)(2028.5,nan)(2028.5,15)(2027.2,15)(2028.5,nan)(2028.5,25)(2027.2,25)(2028.5,nan)(2028.5,30)(2027.2,30)(2028.5,nan)(2028.5,35)(2027.2,35)(2028.5,nan)(2028.5,45)(2027.2,45)(2028.5,nan)(2028.5,50)(2027.2,50)(2028.5,nan)(2028.5,55)(2027.2,55)(2028.5,nan)(2028.5,65)(2027.2,65)};
\end{axis}
\end{tikzpicture}
\end{document}
